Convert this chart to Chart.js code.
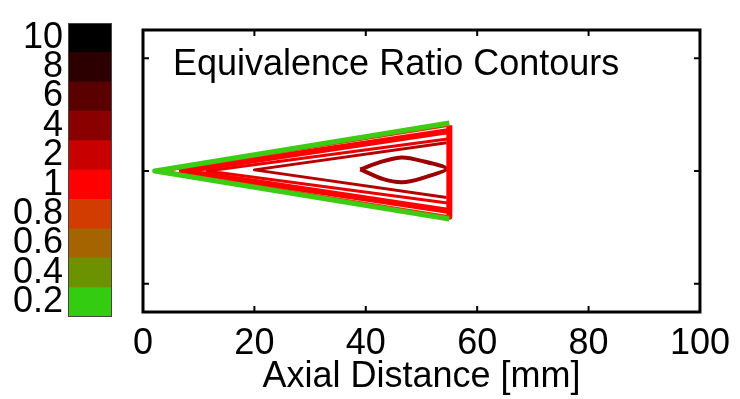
<!DOCTYPE html>
<html>
<head>
<meta charset="utf-8">
<script src="https://cdn.jsdelivr.net/npm/chart.js@4/dist/chart.umd.min.js"></script>
<style>
  body { margin: 0; background: #fff; }
  #wrap { position: relative; width: 740px; height: 399px; overflow: hidden; }
  #main { position: absolute; left: 0; top: 0; }
  #bar { position: absolute; left: 0; top: 0; }
</style>
</head>
<body>
<div id="wrap">
  <canvas id="main" width="740" height="399"></canvas>
  <canvas id="bar" width="120" height="340"></canvas>
</div>
<script>
// colour bar levels (top to bottom)
const colorLevels = ['10', '8', '6', '4', '2', '1', '0.8', '0.6', '0.4', '0.2'];
const levelColors = ['#000000', '#2d0000', '#5a0000', '#8a0000', '#c80000', '#ff0000', '#d23c00', '#a56400', '#6c9200', '#33cc11'];

// axis ticks
const yTickValues = [-20, 0, 20];

// contour lines, axial distance [mm] / radial position
const greenX = [55, 2.1, 55];
const greenY = [8.5, 0, -8.5];
const orangeX = [55, 4, 55];
const orangeY = [8.0, 0, -8.0];
const redX = [55, 7, 55, 55, 55];
const redY = [7.1, 0, -7.1, -8.1, 8.1];
const red2X = [55, 11.5, 55];
const red2Y = [5.7, 0, -5.7];
const innerX = [54.5, 20, 54.5];
const innerY = [5.0, 0.2, -4.7];
const lensX = [39, 43, 46.5, 50, 54.5, 50, 46.5, 43, 39];
const lensY = [0.3, 1.7, 2.4, 1.8, 0.4, -1.3, -2.0, -1.4, 0.3];

const FONT = "'Liberation Sans', Arial, sans-serif";

function pts(xs, ys) {
    return xs.map((x, i) => ({ x: x, y: ys[i] }));
}

function contour(xs, ys, color, width, tension) {
    return {
        data: pts(xs, ys),
        showLine: true,
        borderColor: color,
        borderWidth: width,
        pointRadius: 0,
        fill: false,
        tension: tension || 0,
        borderJoinStyle: 'round',
    };
}

const framePlugin = {
    id: 'frame',
    afterDraw(chart) {
        const { ctx, chartArea: a, scales } = chart;
        ctx.save();
        ctx.strokeStyle = '#000';
        ctx.lineWidth = 2;
        scales.x.ticks.forEach(t => {
            const px = scales.x.getPixelForValue(t.value);
            ctx.beginPath();
            ctx.moveTo(px, a.bottom); ctx.lineTo(px, a.bottom - 6);
            ctx.moveTo(px, a.top); ctx.lineTo(px, a.top + 6);
            ctx.stroke();
        });
        yTickValues.forEach(v => {
            const py = scales.y.getPixelForValue(v);
            ctx.beginPath();
            ctx.moveTo(a.left, py); ctx.lineTo(a.left + 6, py);
            ctx.moveTo(a.right, py); ctx.lineTo(a.right - 6, py);
            ctx.stroke();
        });
        ctx.lineWidth = 3;
        ctx.strokeRect(a.left, a.top, a.right - a.left, a.bottom - a.top);
        ctx.fillStyle = '#000';
        ctx.font = '36px ' + FONT;
        ctx.textBaseline = 'alphabetic';
        ctx.fillText('Equivalence Ratio Contours', a.left + 30, a.top + 45);
        ctx.restore();
    }
};

new Chart(document.getElementById('main'), {
    type: 'scatter',
    data: {
        datasets: [
            contour(greenX, greenY, '#3ccc14', 5),
            contour(orangeX, orangeY, '#d23c00', 2),
            contour(redX, redY, '#ff0000', 6),
            contour(red2X, red2Y, '#e60000', 3),
            contour(innerX, innerY, '#b40000', 3),
            contour(lensX, lensY, '#9a0000', 4, 0.25),
        ]
    },
    options: {
        responsive: false,
        animation: false,
        layout: { padding: { left: 143, right: 34, top: 30, bottom: 0 } },
        plugins: { legend: { display: false }, tooltip: { enabled: false } },
        scales: {
            x: {
                type: 'linear',
                min: 0,
                max: 100,
                ticks: { stepSize: 20, color: '#000', font: { size: 36, family: FONT }, padding: 10, maxRotation: 0 },
                grid: { display: false, drawTicks: false },
                border: { display: false },
                title: { display: true, text: 'Axial Distance [mm]', color: '#000', font: { size: 36, family: FONT }, padding: 0 },
                afterFit(scale) { scale.height = 87; }
            },
            y: {
                type: 'linear',
                min: -25,
                max: 25,
                display: false
            }
        }
    },
    plugins: [framePlugin]
});

const barFrame = {
    id: 'barFrame',
    afterDraw(chart) {
        const { ctx, chartArea: a } = chart;
        ctx.save();
        ctx.strokeStyle = '#444';
        ctx.lineWidth = 1;
        ctx.strokeRect(a.left + 0.5, a.top + 0.5, a.right - a.left - 1, a.bottom - a.top - 1);
        ctx.restore();
    }
};

new Chart(document.getElementById('bar'), {
    type: 'bar',
    data: {
        labels: colorLevels,
        datasets: [{
            data: colorLevels.map(() => 1),
            backgroundColor: levelColors,
            borderWidth: 0,
            barPercentage: 1,
            categoryPercentage: 1,
        }]
    },
    options: {
        indexAxis: 'y',
        responsive: false,
        animation: false,
        layout: { padding: { left: 0, right: 8, top: 8, bottom: 8 } },
        plugins: { legend: { display: false }, tooltip: { enabled: false } },
        scales: {
            x: { min: 0, max: 1, display: false },
            y: {
                ticks: { color: '#000', font: { size: 36, family: FONT, lineHeight: 1 }, padding: 5, autoSkip: false },
                grid: { display: false, drawTicks: false },
                border: { display: false },
                afterFit(scale) { scale.width = 68; }
            }
        }
    },
    plugins: [barFrame]
});
</script>
</body>
</html>
